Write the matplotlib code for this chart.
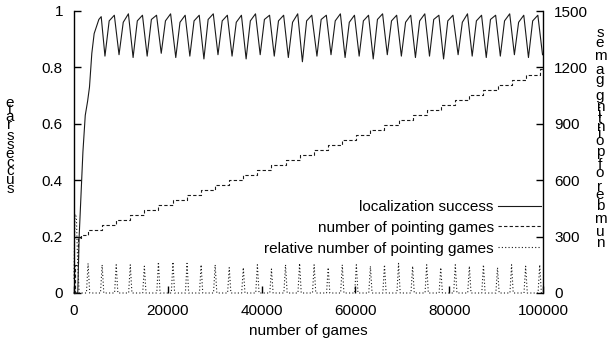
import matplotlib
matplotlib.use('Agg')
import matplotlib.pyplot as plt

plt.rcParams['font.family'] = ['Liberation Sans', 'DejaVu Sans']
plt.rcParams['font.size'] = 11

### data

# localization success (left axis): start-up ramp, then the saw-tooth cycles
ramp_x = [0, 800, 1100, 1500, 1900, 2400, 2900, 3300, 3800, 4300, 4900, 5300, 5800]
ramp_y = [0, 0, 0.2, 0.35, 0.5, 0.63, 0.68, 0.73, 0.85, 0.92, 0.95, 0.97, 0.98]
trough_x = [6600, 9600, 12600, 15600, 18600, 21700, 24700, 27700, 30700, 33700, 36700,
            39700, 42700, 45700, 48700, 51800, 54800, 57800, 60800, 63800, 66800, 69800,
            72800, 75800, 78800, 81900, 84900, 87900, 90900, 93900, 96900, 99900]
trough_y = [0.84, 0.845, 0.835, 0.84, 0.85, 0.835, 0.84, 0.83, 0.845, 0.84, 0.83,
            0.845, 0.84, 0.835, 0.82, 0.84, 0.845, 0.835, 0.84, 0.83, 0.845, 0.84,
            0.835, 0.84, 0.83, 0.845, 0.84, 0.835, 0.84, 0.845, 0.835, 0.845]
shoulder_x = [7500, 10500, 13500, 16500, 19500, 22600, 25600, 28600, 31600, 34600, 37600,
              40600, 43600, 46600, 49600, 52700, 55700, 58700, 61700, 64700, 67700, 70700,
              73700, 76700, 79700, 82800, 85800, 88800, 91800, 94800, 97800]
shoulder_y = [0.965, 0.96, 0.965, 0.97, 0.965, 0.96, 0.965, 0.97, 0.965, 0.96, 0.965,
              0.97, 0.965, 0.96, 0.965, 0.97, 0.965, 0.96, 0.965, 0.97, 0.965, 0.96,
              0.965, 0.97, 0.965, 0.96, 0.965, 0.97, 0.965, 0.96, 0.965]
peak_x = [8600, 11600, 14600, 17600, 20600, 23700, 26700, 29700, 32700, 35700, 38700,
          41700, 44700, 47700, 50700, 53800, 56800, 59800, 62800, 65800, 68800, 71800,
          74800, 77800, 80800, 83900, 86900, 89900, 92900, 95900, 98900]
peak_y = [0.985, 0.99, 0.985, 0.985, 0.99, 0.985, 0.985, 0.99, 0.985, 0.985, 0.99,
          0.985, 0.985, 0.99, 0.985, 0.985, 0.99, 0.985, 0.985, 0.99, 0.985, 0.985,
          0.99, 0.985, 0.985, 0.99, 0.985, 0.985, 0.99, 0.985, 0.985]

# number of pointing games (right axis), staircase stepping at every spike
games_start_x = [0, 300, 900, 1500]
games_start_y = [0, 150, 290, 310]
spike_x = [3000, 6000, 9000, 12000, 15000, 18000, 21100, 24100, 27100, 30100, 33100,
           36100, 39100, 42100, 45100, 48100, 51200, 54200, 57200, 60200, 63200, 66200,
           69200, 72200, 75200, 78200, 81300, 84300, 87300, 90300, 93300, 96300, 99300]
games_y = [335, 362, 388, 416, 441, 469, 494, 522, 549, 575, 601, 629, 655, 682, 708,
           735, 761, 789, 815, 842, 868, 896, 921, 948, 975, 1001, 1028, 1055, 1081,
           1108, 1134, 1162, 1189]

# relative number of pointing games (left axis)
rel_start_x = [0, 200, 500, 800, 1100]
rel_start_y = [0.05, 0.28, 0.27, 0.1, 0.0]
spike_y = [0.105, 0.1, 0.1, 0.1, 0.095, 0.11, 0.11, 0.105, 0.1, 0.1, 0.09, 0.09, 0.1,
           0.085, 0.1, 0.105, 0.1, 0.09, 0.1, 0.1, 0.095, 0.1, 0.105, 0.095, 0.1, 0.09,
           0.1, 0.095, 0.1, 0.09, 0.1, 0.095, 0.1]

### assemble the polylines
loc_x = list(ramp_x)
loc_y = list(ramp_y)
for i in range(len(trough_x)):
    loc_x.append(trough_x[i])
    loc_y.append(trough_y[i])
    if i < len(shoulder_x):
        loc_x += [shoulder_x[i], peak_x[i]]
        loc_y += [shoulder_y[i], peak_y[i]]

cnt_x = games_start_x + spike_x + [100000]
cnt_y = games_start_y + games_y + [games_y[-1]]

rel_x = list(rel_start_x)
rel_y = list(rel_start_y)
for sx, sy in zip(spike_x, spike_y):
    rel_x += [sx - 350, sx, sx + 350]
    rel_y += [0, sy, 0]
rel_x.append(100000)
rel_y.append(0)

### plot
fig = plt.figure(figsize=(6.1, 3.47), dpi=100)
ax = fig.add_axes([74 / 610, 1 - 293 / 347, (543 - 74) / 610, (293 - 11) / 347])
ax2 = ax.twinx()

lw = 0.8
l1, = ax.plot(loc_x, loc_y, color='#1a1a1a', lw=lw, clip_on=False)
l3, = ax.plot(rel_x, rel_y, color='#1a1a1a', lw=lw, ls=(0, (1, 2)), clip_on=False)
l2, = ax2.plot(cnt_x, cnt_y, color='#1a1a1a', lw=lw, ls=(0, (3, 2)),
               drawstyle='steps-post', clip_on=False)

ax.set_xlim(0, 100000)
ax.set_ylim(0, 1)
ax2.set_ylim(0, 1500)
ax.set_xticks([0, 20000, 40000, 60000, 80000, 100000])
ax.set_yticks([0, 0.2, 0.4, 0.6, 0.8, 1])
ax.set_yticklabels(['0', '0.2', '0.4', '0.6', '0.8', '1'])
ax2.set_yticks([0, 300, 600, 900, 1200, 1500])

for s in ['top', 'bottom', 'right']:
    ax.spines[s].set_visible(False)
for s in ['top', 'bottom', 'left']:
    ax2.spines[s].set_visible(False)
ax.spines['left'].set_linewidth(1.0)
ax2.spines['right'].set_linewidth(1.0)

ax.tick_params(axis='y', direction='in', length=5, width=1, pad=8, right=False)
ax.tick_params(axis='x', direction='in', length=5, width=1, pad=8, top=False)
ax2.tick_params(axis='y', direction='in', length=5, width=1, pad=8)

ax.set_xlabel('number of games', labelpad=4)

ax.legend([l1, l2, l3],
          ['localization success', 'number of pointing games',
           'relative number of pointing games'],
          loc='upper right', bbox_to_anchor=(0.996, 0.33), frameon=False,
          markerfirst=False, handlelength=2.8, handletextpad=0.3,
          borderpad=0, borderaxespad=0, labelspacing=0.45)

# gnuplot-style vertical labels: upright glyphs stacked bottom to top
adv = {'s': 0.5, 'u': 0.556, 'c': 0.5, 'e': 0.556, 'r': 0.333, 'a': 0.556,
       't': 0.278, 'n': 0.556, 'm': 0.833, 'b': 0.556, 'o': 0.556, 'f': 0.278,
       'p': 0.556, 'i': 0.222, 'g': 0.556, ' ': 0.278}


def stack_label(text, x_px, y_mid_px, em_px):
    centers = []
    pos = 0.0
    for ch in text:
        centers.append(pos + adv[ch] / 2)
        pos += adv[ch]
    span = centers[-1] - centers[0]
    for ch, c in zip(text, centers):
        if ch == ' ':
            continue
        y_px = y_mid_px + (span / 2 - (c - centers[0])) * em_px
        fig.text(x_px / 610, 1 - y_px / 347, ch, ha='center', va='center',
                 fontsize=11)


stack_label('success rate', 10, 146, 17)
stack_label('number of pointing games', 600, 138, 19)

fig.savefig('out.png', dpi=100)
